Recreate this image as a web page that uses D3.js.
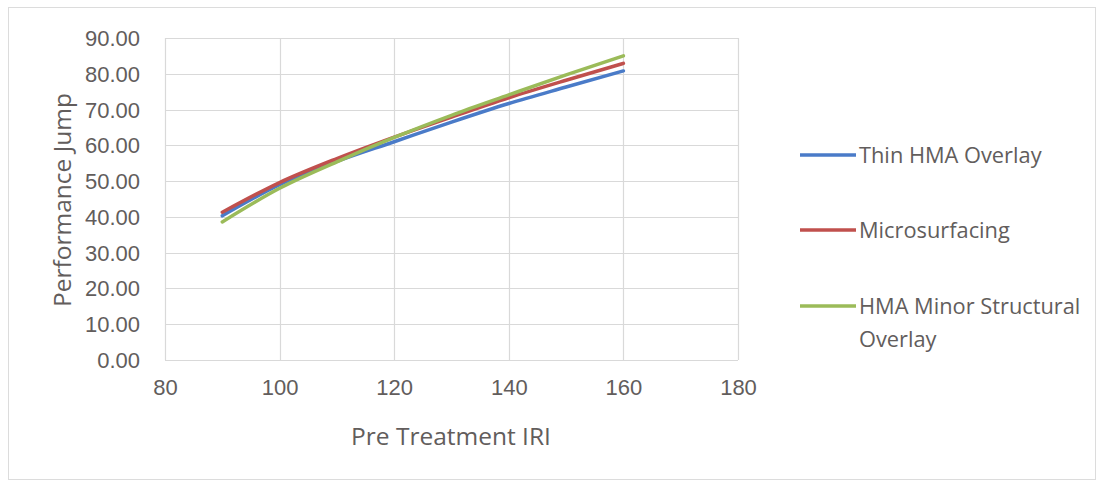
<!DOCTYPE html>
<html>
<head>
<meta charset="utf-8">
<script src="https://cdn.jsdelivr.net/npm/d3@7"></script>
<style>
  html, body { margin: 0; padding: 0; background: #fff; }
  svg { display: block; font-family: "Open Sans", "Liberation Sans", sans-serif; }
</style>
</head>
<body>
<svg id="chart" width="1103" height="480"></svg>
<script>
// Pre-treatment IRI values (x) and performance jump per treatment
const iri = [90, 100, 110, 120, 130, 140, 150, 160];
const thinHma = [40.3, 49.0, 55.5, 61.0, 66.5, 71.7, 76.3, 80.8];
const microsurfacing = [41.3, 49.6, 56.3, 62.3, 67.9, 73.3, 78.2, 82.9];
const hmaMinor = [38.6, 48.0, 55.4, 62.2, 68.4, 74.1, 79.7, 85.0];

const seriesNames = ["Thin HMA Overlay", "Microsurfacing", "HMA Minor Structural Overlay"];
const seriesValues = [thinHma, microsurfacing, hmaMinor];
const seriesColors = ["#4a7bc8", "#c0504d", "#9bbb59"];

const xTicks = [80, 100, 120, 140, 160, 180];
const yTicks = [0, 10, 20, 30, 40, 50, 60, 70, 80, 90];

const svg = d3.select("#chart");
const W = 1103, H = 480;

// outer chart frame
svg.append("rect")
  .attr("x", 8.5).attr("y", 7.5)
  .attr("width", W - 16).attr("height", H - 8)
  .attr("fill", "#fff").attr("stroke", "#dcdcdc").attr("stroke-width", 1);

const plot = { left: 165, right: 738, top: 38, bottom: 360 };

const x = d3.scaleLinear().domain([80, 180]).range([plot.left, plot.right]);
const y = d3.scaleLinear().domain([0, 90]).range([plot.bottom, plot.top]);

const textColor = "#625d5c";
const gridColor = "#d9d9d9";
const tickFont = 22;

// gridlines
const g = svg.append("g");
g.selectAll(".hgrid").data(yTicks).enter().append("line")
  .attr("x1", plot.left).attr("x2", plot.right)
  .attr("y1", d => Math.round(y(d)) + 0.5).attr("y2", d => Math.round(y(d)) + 0.5)
  .attr("stroke", gridColor).attr("stroke-width", 1.2);
g.selectAll(".vgrid").data(xTicks).enter().append("line")
  .attr("y1", plot.top).attr("y2", plot.bottom)
  .attr("x1", d => Math.round(x(d)) + 0.5).attr("x2", d => Math.round(x(d)) + 0.5)
  .attr("stroke", gridColor).attr("stroke-width", 1.2);

// axis labels (the grid provides the lines)
const yAxis = d3.axisLeft(y).tickValues(yTicks).tickFormat(d3.format(".2f")).tickSize(0).tickPadding(25);
const yg = svg.append("g").attr("transform", `translate(${plot.left},0)`).call(yAxis);
yg.select(".domain").remove();
yg.selectAll("text").attr("fill", textColor).attr("font-size", tickFont).attr("dy", "0.34em");

const xAxis = d3.axisBottom(x).tickValues(xTicks).tickFormat(d3.format("d")).tickSize(0).tickPadding(28);
const xg = svg.append("g").attr("transform", `translate(0,${plot.bottom})`).call(xAxis);
xg.select(".domain").remove();
xg.selectAll("text").attr("fill", textColor).attr("font-size", tickFont).attr("dy", "0.34em");

// axis titles
svg.append("text")
  .attr("x", 451).attr("y", 445)
  .attr("text-anchor", "middle")
  .attr("fill", textColor).attr("font-size", 24.5)
  .text("Pre Treatment IRI");

svg.append("text")
  .attr("transform", "translate(71,200) rotate(-90)")
  .attr("text-anchor", "middle")
  .attr("fill", textColor).attr("font-size", 24.5)
  .text("Performance Jump");

// series lines
const line = d3.line()
  .x((d, i) => x(iri[i]))
  .y(d => y(d))
  .curve(d3.curveMonotoneX);

seriesValues.forEach((vals, k) => {
  svg.append("path")
    .datum(vals)
    .attr("d", line)
    .attr("fill", "none")
    .attr("stroke", seriesColors[k])
    .attr("stroke-width", 3.5)
    .attr("stroke-linecap", "round");
});

// legend
const legendY = [155, 230, 306];
const legend = svg.append("g");
seriesNames.forEach((name, k) => {
  legend.append("line")
    .attr("x1", 800).attr("x2", 856)
    .attr("y1", legendY[k]).attr("y2", legendY[k])
    .attr("stroke", seriesColors[k]).attr("stroke-width", 3.5);
  const t = legend.append("text")
    .attr("x", 859).attr("y", legendY[k] + 8)
    .attr("fill", textColor).attr("font-size", 21.8);
  if (name === "HMA Minor Structural Overlay") {
    t.append("tspan").attr("x", 859).text("HMA Minor Structural");
    t.append("tspan").attr("x", 859).attr("dy", 33).text("Overlay");
  } else {
    t.text(name);
  }
});
</script>
</body>
</html>
